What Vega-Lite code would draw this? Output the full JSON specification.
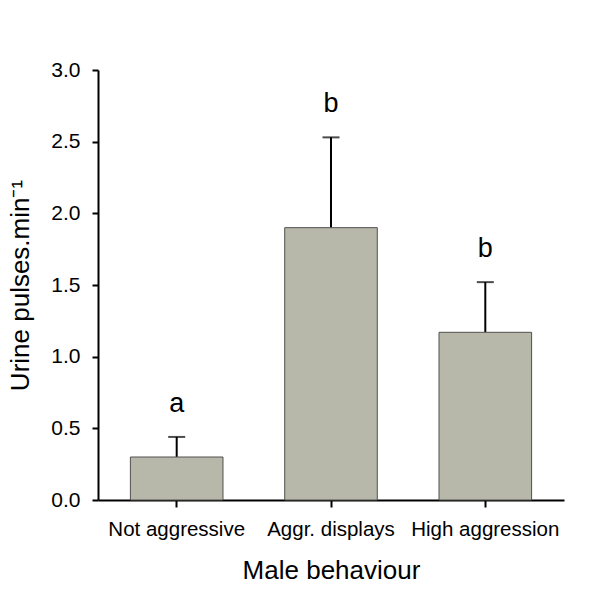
{
  "$schema": "https://vega.github.io/schema/vega-lite/v6.json",
  "width": 466,
  "height": 430,
  "autosize": {"type": "none"},
  "padding": {"left": 98, "top": 70, "right": 36, "bottom": 89},
  "background": "white",
  "config": {
    "view": {"stroke": null},
    "font": "Liberation Sans",
    "axis": {"grid": false, "domainColor": "black", "domainWidth": 2, "tickColor": "black", "tickWidth": 2, "labelColor": "black", "titleColor": "black", "labelFont": "Liberation Sans", "titleFont": "Liberation Sans", "titleFontWeight": "normal"}
  },
  "data": {
    "values": [
      {"behaviour": "Not aggressive", "mean": 0.30, "err": 0.44, "label": "a"},
      {"behaviour": "Aggr. displays", "mean": 1.90, "err": 2.53, "label": "b"},
      {"behaviour": "High aggression", "mean": 1.17, "err": 1.52, "label": "b"}
    ]
  },
  "encoding": {
    "x": {
      "field": "behaviour", "type": "nominal", "sort": null,
      "scale": {"paddingInner": 0.4, "paddingOuter": 0.21},
      "axis": {"title": "Male behaviour", "labelAngle": 0, "labelFontSize": 20.5, "tickSize": 7, "labelPadding": 12, "titleFontSize": 26, "titleBaseline": "alphabetic", "titleY": 78}
    }
  },
  "layer": [
    {
      "mark": {"type": "rule", "strokeWidth": 2, "color": "black"},
      "encoding": {
        "y": {"field": "mean", "type": "quantitative"},
        "y2": {"field": "err"}
      }
    },
    {
      "mark": {"type": "bar", "fill": "#b8b8aa", "stroke": "#505050", "strokeWidth": 1},
      "encoding": {
        "y": {
          "field": "mean", "type": "quantitative",
          "scale": {"domain": [0, 3], "nice": false},
          "axis": {"title": "Urine pulses.min⁻¹", "values": [0, 0.5, 1, 1.5, 2, 2.5, 3], "format": ".1f", "labelFontSize": 21, "tickSize": 6, "labelPadding": 12, "titleFontSize": 26, "titleBaseline": "alphabetic", "titleX": -70}
        }
      }
    },
    {
      "mark": {"type": "tick", "orient": "horizontal", "size": 17, "thickness": 2, "color": "black"},
      "encoding": {"y": {"field": "err", "type": "quantitative"}}
    },
    {
      "mark": {"type": "text", "fontSize": 27, "baseline": "alphabetic", "dy": -25, "color": "black"},
      "encoding": {
        "y": {"field": "err", "type": "quantitative"},
        "text": {"field": "label"}
      }
    }
  ]
}
